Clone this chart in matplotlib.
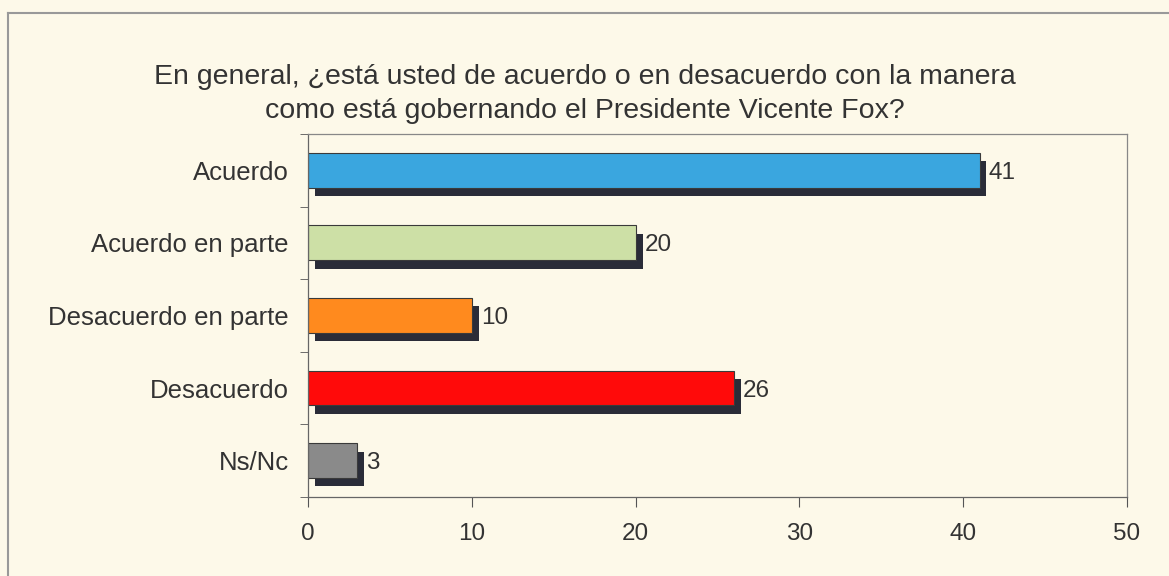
import matplotlib.pyplot as plt
import matplotlib.patheffects as pe
from matplotlib.lines import Line2D

# datos de la encuesta
categorias = ['Acuerdo', 'Acuerdo en parte', 'Desacuerdo en parte', 'Desacuerdo', 'Ns/Nc']
valores = [41, 20, 10, 26, 3]
colores = ['#3aa6df', '#cde0a6', '#ff8a1e', '#ff0a0a', '#8a8a8a']
xticks = [0, 10, 20, 30, 40, 50]

titulo = ('En general, ¿está usted de acuerdo o en desacuerdo con la manera\n'
          'como está gobernando el Presidente Vicente Fox?')

fondo = '#fdf9e9'
texto = '#333333'
plt.rcParams['font.family'] = ['Liberation Sans', 'DejaVu Sans']

fig = plt.figure(figsize=(11.69, 5.76), dpi=100, facecolor=fondo)
ax = fig.add_axes([0.2635, 0.1372, 0.7005, 0.6302], facecolor=fondo)

# marco exterior (solo lados izquierdo y superior visibles)
fig.add_artist(Line2D([8 / 1169, 8 / 1169], [0, 1 - 13 / 576], color='#999999', lw=1.5))
fig.add_artist(Line2D([8 / 1169, 1], [1 - 13 / 576, 1 - 13 / 576], color='#999999', lw=1.5))

y = list(range(len(categorias)))
sombra = [pe.SimplePatchShadow(offset=(5, -6), shadow_rgbFace='#2a2c38', alpha=1.0), pe.Normal()]
barras = ax.barh(y, valores, height=0.48, color=colores, edgecolor='#3a3a3a', linewidth=0.8)
for b in barras:
    b.set_path_effects(sombra)

for yi, v in zip(y, valores):
    ax.text(v + 0.55, yi, str(v), va='center_baseline', ha='left', fontsize=17.5, color=texto)

ax.set_ylim(len(categorias) - 0.5, -0.5)
ax.set_xlim(0, 50)
ax.set_xticks(xticks)
ax.set_xticklabels([str(t) for t in xticks], fontsize=17.5, color=texto)
ax.set_yticks(y)
ax.set_yticklabels(categorias, fontsize=18.5, color=texto)
ax.tick_params(axis='y', which='major', length=0, pad=14)
ax.set_yticks([i + 0.5 for i in range(len(categorias) - 1)] + [-0.5, len(categorias) - 0.5], minor=True)
ax.tick_params(axis='y', which='minor', length=6, direction='out', color='#555555')
ax.tick_params(axis='x', length=7, direction='out', color='#555555', pad=12)

for s in ax.spines.values():
    s.set_color('#666666')
    s.set_linewidth(0.9)
ax.spines['top'].set_color('#888888')
ax.spines['right'].set_color('#888888')

fig.text(0.5, 1 - 94 / 576, titulo, ha='center', va='center', fontsize=20.5,
         color=texto, linespacing=1.38)

fig.savefig('out.png', dpi=100, facecolor=fondo)
